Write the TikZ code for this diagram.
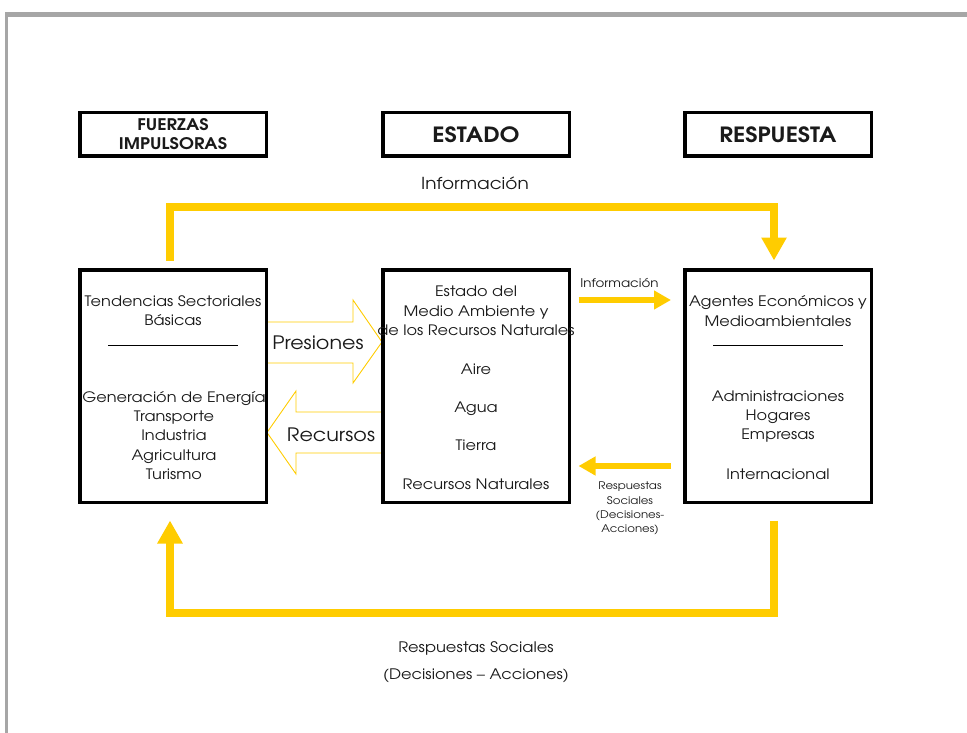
\documentclass[tikz,border=0pt]{standalone}
\usepackage{fontspec}
\setmainfont{TeX Gyre Adventor}[FakeStretch=1.12]
\usetikzlibrary{arrows.meta,calc}
\definecolor{amarillo}{HTML}{FFCC00}
\definecolor{marco}{HTML}{A6A6A6}
\definecolor{tinta}{HTML}{1A1A1A}

\begin{document}
\begin{tikzpicture}[x=1pt,y=-1pt,
  every node/.style={text=tinta},
  cabecera/.style={draw=black,line width=3.5pt,minimum width=186.5pt,minimum height=43.5pt,inner sep=0pt,font=\bfseries},
  caja/.style={draw=black,line width=3.5pt,minimum width=186.5pt,minimum height=232.5pt,inner sep=0pt},
  texto/.style={font=\fontsize{14.4}{19.3}\selectfont,align=center,inner sep=0pt},
  rotulo/.style={font=\fontsize{10.5}{14.3}\selectfont,align=center,inner sep=0pt},
  lazo/.style={draw=amarillo,line width=8pt,line join=miter,-{Triangle[width=24pt,length=23pt]}},
  flecha/.style={draw=amarillo,line width=6.5pt,-{Triangle[width=18pt,length=17pt]}},
  hueca/.style={draw=amarillo,line width=0.9pt,fill=white,line join=miter},
  hueco/.style={font=\fontsize{18.5}{20}\selectfont,inner sep=0pt},
  raya/.style={draw=black,line width=0.8pt}
]
\useasboundingbox (0,0) rectangle (967,733);

% page frame (left and top edges)
\fill[marco] (5.3,12) rectangle (8,733);
\fill[marco] (5.3,12) rectangle (967,16.7);

% hollow arrows between the first two columns
\draw[hueca] (267,322) -- (353,322) -- (353,300) -- (382,342) -- (353,383) -- (353,363) -- (267,363) -- cycle;
\draw[hueca] (382,412) -- (296,412) -- (296,391) -- (267,432.5) -- (296,474) -- (296,453) -- (382,453) -- cycle;
\node[hueco] (presiones) at (318,343) {Presiones};
\node[hueco] (recursos) at (331,435) {Recursos};

% column headers
\node[cabecera,font=\fontsize{16}{19}\selectfont\bfseries,align=center] (hF) at (173,134.5) {FUERZAS\\IMPULSORAS};
\node[cabecera,font=\fontsize{21}{24}\selectfont\bfseries] (hE) at (476,134.5) {ESTADO};
\node[cabecera,font=\fontsize{21}{24}\selectfont\bfseries] (hR) at (778,134.5) {RESPUESTA};

% main boxes
\node[caja] (lbox) at (173,386) {};
\node[caja] (mbox) at (476,386) {};
\node[caja] (rbox) at (778,386) {};

% left box contents
\node[texto] (l1) at (173,311) {Tendencias Sectoriales\\Básicas};
\draw[raya] ($(lbox.center)+(-65,-41)$) -- ($(lbox.center)+(65,-41)$);
\node[texto] (l2) at (174,435.5) {Generación de Energía\\Transporte\\Industria\\Agricultura\\Turismo};

% middle box contents
\node[texto] (m1) at (476,311) {Estado del\\Medio Ambiente y\\de los Recursos Naturales};
\node[texto] (m2) at (476,369) {Aire};
\node[texto] (m3) at (476,408.5) {Agua};
\node[texto] (m4) at (476,445) {Tierra};
\node[texto] (m5) at (476,484) {Recursos Naturales};

% right box contents
\node[texto] (r1) at (778,311) {Agentes Económicos y\\Medioambientales};
\draw[raya] ($(rbox.center)+(-65,-41)$) -- ($(rbox.center)+(65,-41)$);
\node[texto] (r2) at (778,416.5) {Administraciones\\Hogares\\Empresas};
\node[texto] (r3) at (778,474) {Internacional};

% information loop over the top
\coordinate (a1) at ($(lbox.north)+(-3,-7)$);
\coordinate (a2) at ($(rbox.north)+(-4,-7.5)$);
\draw[lazo] (a1) -- ++(0,-53.7) -| (a2);
\node[texto,font=\fontsize{16.5}{18}\selectfont] (info) at (475,183) {Información};

% social response loop under the bottom
\coordinate (b1) at ($(rbox.south)+(-4,16.5)$);
\coordinate (b2) at ($(lbox.south)+(-3,16.5)$);
\draw[lazo] (b1) -- ++(0,92.5) -| (b2);
\node[texto,font=\fontsize{14.5}{27}\selectfont] (resp) at (476,662.5) {Respuestas Sociales\\(Decisiones -- Acciones)};

% short arrows between state and response
\draw[flecha] ($(mbox.east)+(7.5,-86)$) -- ($(rbox.west)+(-12,-86)$);
\node[rotulo,font=\fontsize{12}{14}\selectfont] (info2) at (619.5,283) {Información};
\draw[flecha] ($(rbox.west)+(-12,80)$) -- ($(mbox.east)+(7.5,80)$);
\node[rotulo] (resp2) at (630,508.5) {Respuestas\\Sociales\\(Decisiones-\\Acciones)};
\end{tikzpicture}
\end{document}
